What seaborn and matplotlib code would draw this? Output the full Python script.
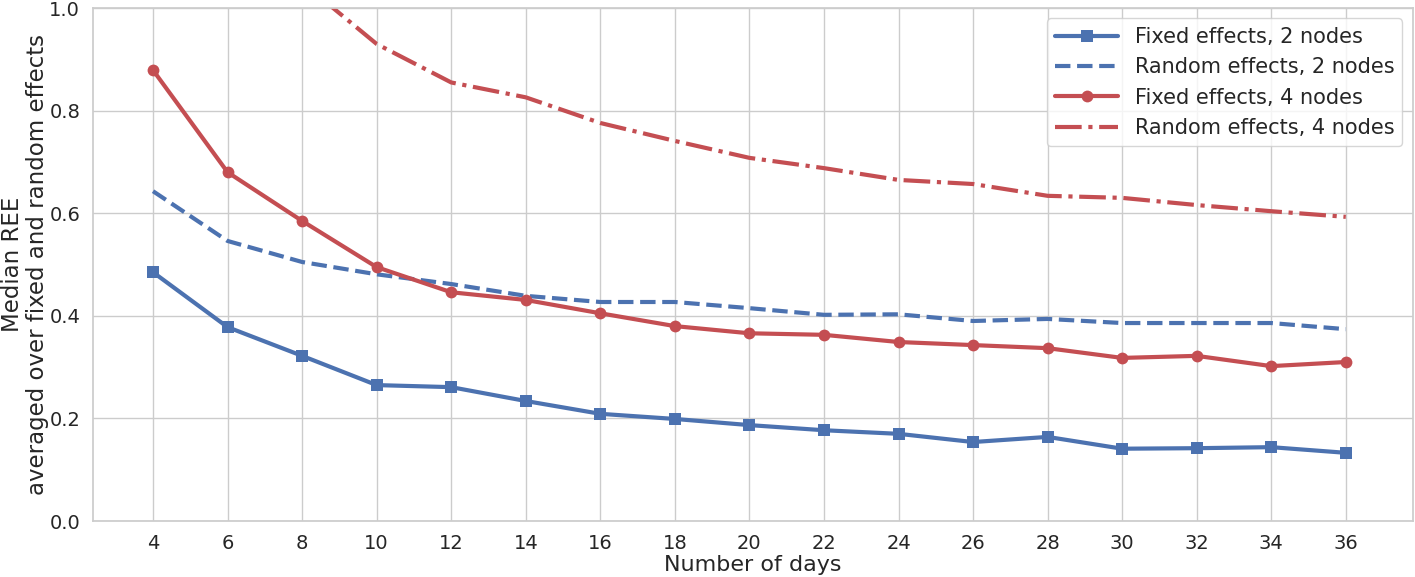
import numpy as np
import pandas as pd
import matplotlib
matplotlib.use("Agg")
import matplotlib.pyplot as plt
import seaborn as sns

# dados
dias = [4, 6, 8, 10, 12, 14, 16, 18, 20, 22, 24, 26, 28, 30, 32, 34, 36]
fixo_2nos = [0.485, 0.378, 0.322, 0.265, 0.261, 0.234, 0.209, 0.199, 0.187, 0.177,
             0.170, 0.154, 0.164, 0.141, 0.142, 0.144, 0.133]
aleat_2nos = [0.643, 0.546, 0.505, 0.481, 0.462, 0.439, 0.427, 0.427, 0.415, 0.402,
              0.403, 0.390, 0.394, 0.386, 0.386, 0.386, 0.374]
fixo_4nos = [0.879, 0.680, 0.585, 0.495, 0.446, 0.431, 0.405, 0.380, 0.366, 0.363,
             0.349, 0.343, 0.337, 0.318, 0.322, 0.302, 0.310]
aleat_4nos = [1.60, 1.25, 1.05, 0.930, 0.855, 0.826, 0.776, 0.741, 0.708, 0.688,
              0.665, 0.657, 0.634, 0.630, 0.616, 0.604, 0.593]

sns.set_theme(style="whitegrid", palette="deep", font_scale=1.45)
plt.rcParams['font.family'] = ['DejaVu Sans']

azul = sns.color_palette("deep")[0]
vermelho = sns.color_palette("deep")[3]

fig, ax = plt.subplots(figsize=(14.15, 5.77), dpi=100)

sns.lineplot(x=dias, y=fixo_2nos, ax=ax, color=azul, marker='s', markersize=8.5,
             markeredgewidth=0, linewidth=3, label="Fixed effects, 2 nodes")
sns.lineplot(x=dias, y=aleat_2nos, ax=ax, color=azul, linestyle='--',
             linewidth=3, label="Random effects, 2 nodes")
sns.lineplot(x=dias, y=fixo_4nos, ax=ax, color=vermelho, marker='o', markersize=8.5,
             markeredgewidth=0, linewidth=3, label="Fixed effects, 4 nodes")
sns.lineplot(x=dias, y=aleat_4nos, ax=ax, color=vermelho, linestyle='-.',
             linewidth=3, label="Random effects, 4 nodes")

ax.set_xticks(dias)
ax.set_xlim(2.4, 37.8)
ax.set_ylim(0, 1.0)
ax.tick_params(axis='both', labelsize=14)
ax.set_xlabel("Number of days", labelpad=1, fontsize=16)
ax.set_ylabel("Median REE\naveraged over fixed and random effects",
              fontsize=16.5, linespacing=1.1)
ax.yaxis.set_label_coords(-0.0335, 0.5)
ax.legend(loc='upper right', fontsize=15, handlelength=3.0, labelspacing=0.5)

plt.subplots_adjust(left=0.066, right=0.9985, top=0.986, bottom=0.097)
plt.savefig("out.png", dpi=100)
